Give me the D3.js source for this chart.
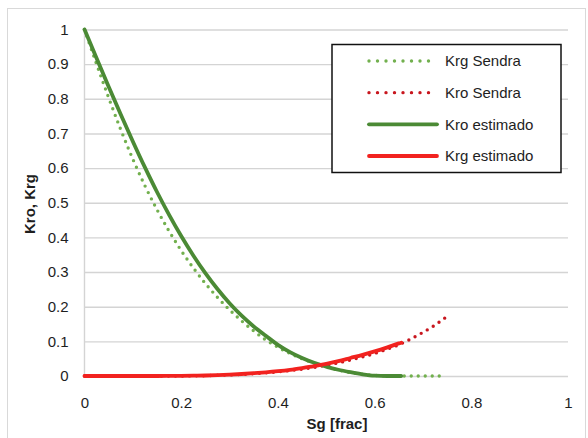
<!DOCTYPE html>
<html>
<head>
<meta charset="utf-8">
<script src="https://cdn.jsdelivr.net/npm/d3@7/dist/d3.min.js"></script>
<style>
  html, body { margin: 0; padding: 0; background: #fff; }
  svg { display: block; font-family: "Liberation Sans", Arial, sans-serif; }
</style>
</head>
<body>
<svg id="chart" width="588" height="438"></svg>
<script>
// Gas saturation samples (Sendra table and estimated model)
const sgSendra  = [0, 0.025, 0.05, 0.075, 0.1, 0.125, 0.15, 0.175, 0.2, 0.225, 0.25, 0.275, 0.3, 0.325, 0.35, 0.375,
                   0.4, 0.425, 0.45, 0.475, 0.5, 0.525, 0.55, 0.575, 0.6, 0.625, 0.65, 0.675, 0.7, 0.725, 0.745];
const krgSendra = [1, 0.9, 0.803, 0.711, 0.626, 0.549, 0.48, 0.418, 0.362, 0.312, 0.267, 0.227, 0.191, 0.159, 0.13, 0.104,
                   0.083, 0.065, 0.05, 0.037, 0.026, 0.017, 0.01, 0.005, 0.002, 0, 0, 0, 0, 0, 0];
const kroSendra = [0, 0, 0, 0, 0, 0, 0, 0, 0, 0.0005, 0.001, 0.002, 0.003, 0.0045, 0.0065, 0.009,
                   0.012, 0.0155, 0.02, 0.025, 0.031, 0.038, 0.046, 0.055, 0.065, 0.077, 0.09, 0.107, 0.126, 0.147, 0.167];

const sgEst  = [0, 0.025, 0.05, 0.075, 0.1, 0.125, 0.15, 0.175, 0.2, 0.225, 0.25, 0.275, 0.3, 0.325, 0.35, 0.375,
                0.4, 0.425, 0.45, 0.475, 0.5, 0.525, 0.55, 0.575, 0.6, 0.625, 0.65, 0.655];
const kroEst = [1, 0.917, 0.835, 0.755, 0.677, 0.602, 0.531, 0.465, 0.404, 0.348, 0.297, 0.251, 0.21, 0.174, 0.143, 0.116,
                0.09, 0.069, 0.052, 0.038, 0.027, 0.018, 0.011, 0.005, 0.001, 0, 0, 0];
const krgEst = [0, 0, 0, 0, 0, 0, 0, 0.0002, 0.0005, 0.001, 0.0015, 0.0025, 0.004, 0.0058, 0.008, 0.0107,
                0.014, 0.018, 0.023, 0.0285, 0.035, 0.043, 0.052, 0.061, 0.071, 0.082, 0.094, 0.096];

const xTicks = [0, 0.2, 0.4, 0.6, 0.8, 1];
const yTicks = [0, 0.1, 0.2, 0.3, 0.4, 0.5, 0.6, 0.7, 0.8, 0.9, 1];

const series = [
  { name: "Krg Sendra",   x: sgSendra, y: krgSendra, color: "#72b04e", width: 3.4, dotted: true },
  { name: "Kro Sendra",   x: sgSendra, y: kroSendra, color: "#c8161e", width: 3.4, dotted: true },
  { name: "Kro estimado", x: sgEst,    y: kroEst,    color: "#4b8a35", width: 3.8, dotted: false },
  { name: "Krg estimado", x: sgEst,    y: krgEst,    color: "#f2221f", width: 3.8, dotted: false }
];

const svg = d3.select("#chart");
const plotL = 84.5, plotR = 568, plotT = 29.5, plotB = 376;

const x = d3.scaleLinear().domain([0, 1]).range([plotL, plotR]);
const y = d3.scaleLinear().domain([0, 1]).range([plotB, plotT]);

// chart area frame
svg.append("rect")
  .attr("x", 7.5).attr("y", 8.5).attr("width", 578).attr("height", 440)
  .attr("fill", "#fff").attr("stroke", "#d9d9d9").attr("stroke-width", 1);

// horizontal gridlines + y labels
const yAxis = d3.axisLeft(y).tickValues(yTicks).tickSize(-(plotR - plotL)).tickFormat(d3.format("~g")).tickPadding(16);
const gy = svg.append("g").attr("transform", `translate(${plotL},0)`).call(yAxis);
gy.select(".domain").remove();
gy.selectAll(".tick line").attr("stroke", "#d4d4d4").attr("stroke-width", 1.4);
gy.selectAll(".tick text").attr("font-size", 15).attr("fill", "#1e1e1e")
  .attr("font-family", "Liberation Sans, Arial, sans-serif");

// vertical axis line
svg.append("line")
  .attr("x1", plotL).attr("x2", plotL).attr("y1", plotT).attr("y2", plotB)
  .attr("stroke", "#d4d4d4").attr("stroke-width", 1.4);

// x labels
const xAxis = d3.axisBottom(x).tickValues(xTicks).tickSize(0).tickFormat(d3.format("~g")).tickPadding(21);
const gx = svg.append("g").attr("transform", `translate(0,${plotB})`).call(xAxis);
gx.select(".domain").remove();
gx.selectAll(".tick text").attr("font-size", 15).attr("fill", "#1e1e1e")
  .attr("font-family", "Liberation Sans, Arial, sans-serif");

// curves
const line = d3.line().curve(d3.curveMonotoneX);
series.forEach(s => {
  const pts = s.x.map((v, i) => [x(v), y(s.y[i])]);
  const p = svg.append("path")
    .attr("d", line(pts))
    .attr("fill", "none")
    .attr("stroke", s.color)
    .attr("stroke-width", s.width);
  if (s.dotted) {
    p.attr("stroke-dasharray", "0 7").attr("stroke-linecap", "round");
  } else {
    p.attr("stroke-linecap", "round").attr("stroke-linejoin", "round");
  }
});

// axis titles
svg.append("text")
  .attr("x", 337).attr("y", 429)
  .attr("text-anchor", "middle")
  .attr("font-size", 15).attr("font-weight", "bold").attr("fill", "#1e1e1e")
  .text("Sg [frac]");

svg.append("text")
  .attr("transform", "translate(35,204) rotate(-90)")
  .attr("text-anchor", "middle")
  .attr("font-size", 15).attr("font-weight", "bold").attr("fill", "#1e1e1e")
  .text("Kro, Krg");

// legend
const lg = svg.append("g");
lg.append("rect")
  .attr("x", 332).attr("y", 44.5).attr("width", 229).attr("height", 128)
  .attr("fill", "#fff").attr("stroke", "#111").attr("stroke-width", 1.5);

const legendY = d3.scalePoint().domain(series.map(s => s.name)).range([61, 156]);
series.forEach(s => {
  const yy = legendY(s.name);
  const l = lg.append("line")
    .attr("x1", 369).attr("x2", 437).attr("y1", yy).attr("y2", yy)
    .attr("stroke", s.color).attr("stroke-width", s.width);
  if (s.dotted) {
    l.attr("stroke-dasharray", "0 8.5").attr("stroke-linecap", "round");
  } else {
    l.attr("stroke-linecap", "round");
  }
  lg.append("text")
    .attr("x", 445).attr("y", yy).attr("dy", "0.36em")
    .attr("font-size", 15).attr("fill", "#1e1e1e")
    .text(s.name);
});
</script>
</body>
</html>
